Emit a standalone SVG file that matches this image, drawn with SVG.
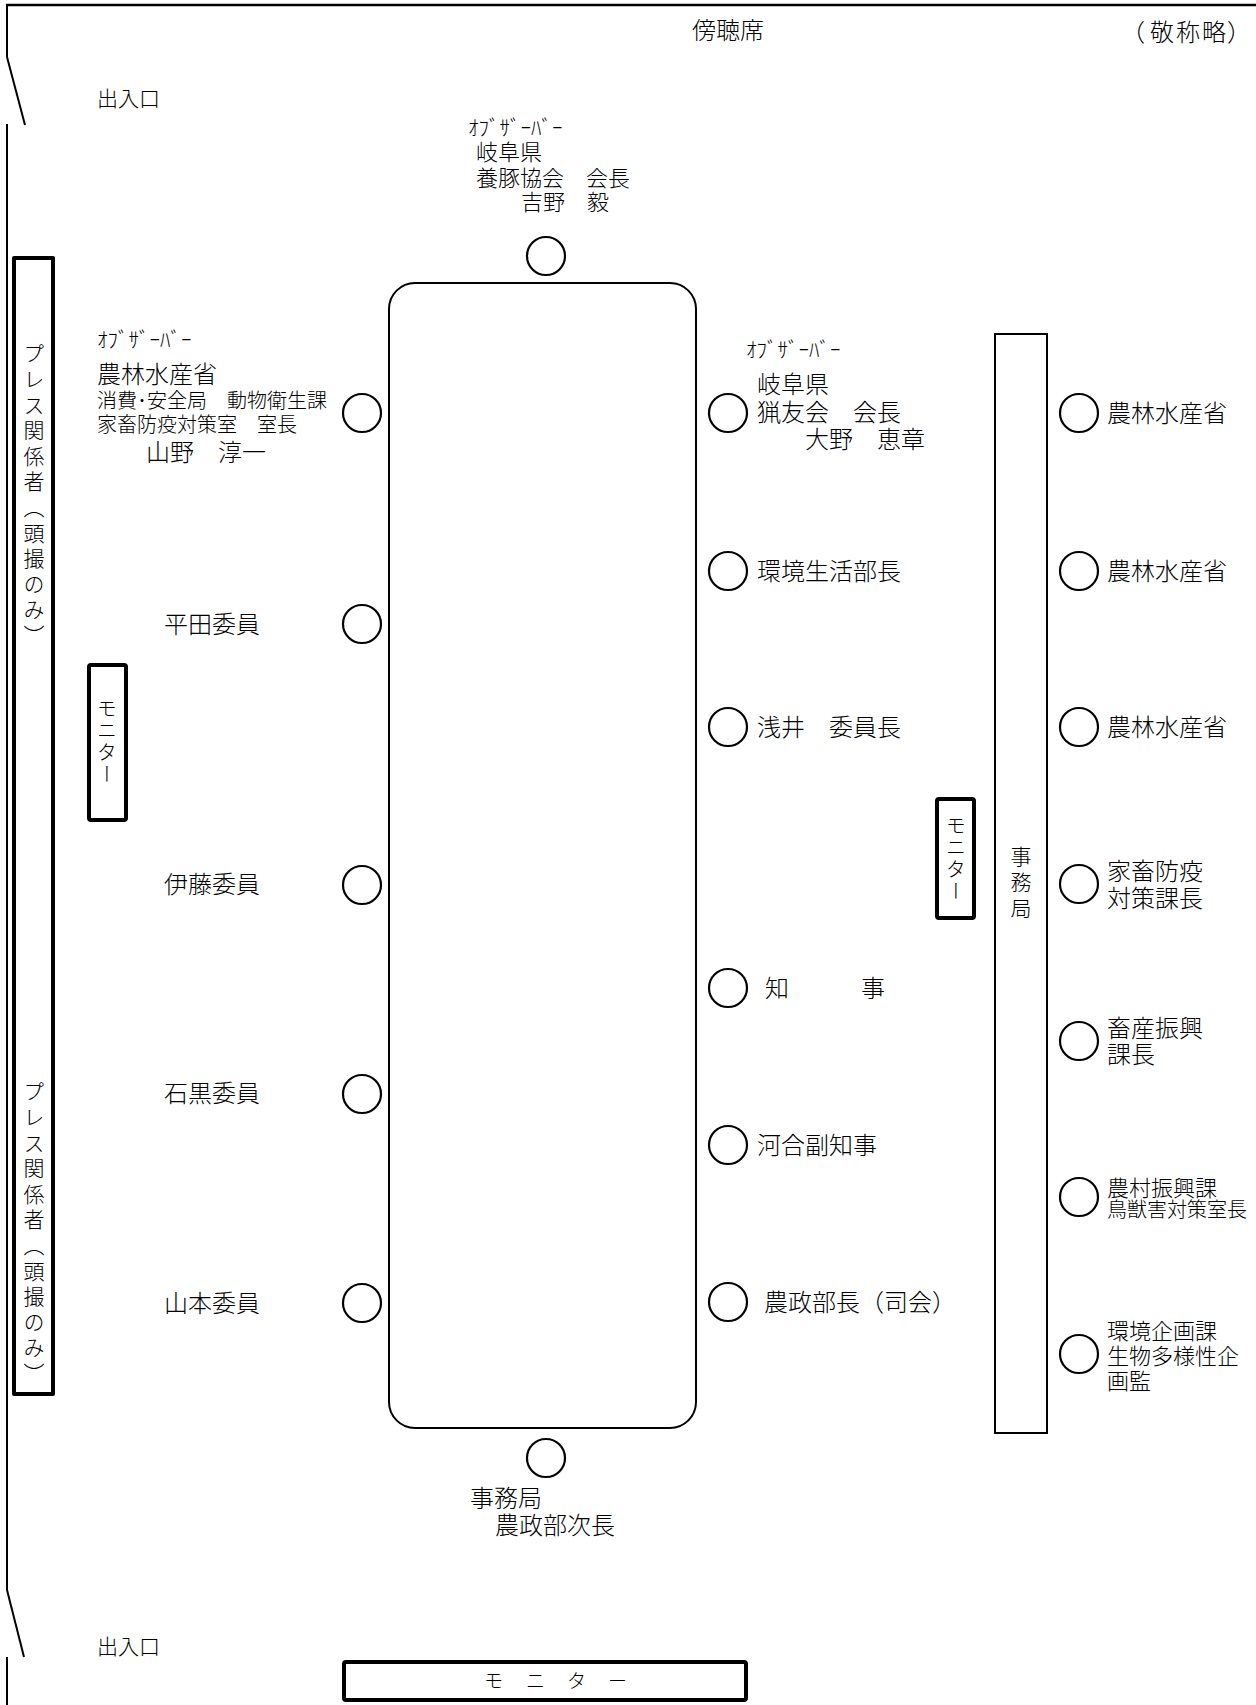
<svg xmlns="http://www.w3.org/2000/svg" width="1256" height="1705" viewBox="0 0 1256 1705">
<style>
text { font-family: "Noto Sans CJK JP", "Noto Sans", sans-serif; fill: #000; font-weight: 300; }
.m { font-size: 24px; }
.n { font-size: 22px; }
.s { font-size: 20px; }
.h { font-size: 21px; }
.v { writing-mode: vertical-rl; }
.seat { fill: #fff; stroke: #000; stroke-width: 2.2; }
.wall { stroke: #000; stroke-width: 2; fill: none; }
.thick { fill: #fff; stroke: #000; stroke-width: 4; stroke-linejoin: round; }
.thin { fill: #fff; stroke: #000; stroke-width: 2; }
</style>
<rect width="1256" height="1705" fill="#fff"/>

<g id="room">
  <line x1="6" y1="5" x2="1256" y2="5" stroke="#000" stroke-width="2.5"/>
  <path class="wall" d="M7,5 V57 M7,124 V1590 M7,1657 V1705"/>
  <line class="wall" x1="7" y1="57" x2="25" y2="125"/>
  <line class="wall" x1="7" y1="1590" x2="24" y2="1657"/>
  <text class="m" x="692" y="39">傍聴席</text>
  <text class="m" x="1121 1150 1176 1202 1227" y="41">（敬称略）</text>
  <text class="h" x="97" y="106">出入口</text>
  <text class="h" x="97" y="1654">出入口</text>
</g>

<g id="table">
  <rect x="389" y="283" width="307" height="1145" rx="26" fill="#fff" stroke="#000" stroke-width="2"/>
</g>

<g id="press">
  <rect class="thick" x="14" y="258" width="39" height="1136"/>
  <text class="v" style="font-size:21px;letter-spacing:4.6px" x="34" y="343">プレス関係者（頭撮のみ）</text>
  <text class="v" style="font-size:21px;letter-spacing:4.6px" x="34" y="1081">プレス関係者（頭撮のみ）</text>
</g>

<g id="monitor-left">
  <rect class="thick" x="89" y="665" width="37" height="155" rx="2"/>
  <text class="v" style="font-size:20px;letter-spacing:2px" x="107" y="698">モニター</text>
</g>

<g id="monitor-right">
  <rect class="thick" x="937" y="799" width="37" height="119" rx="2"/>
  <text class="v" style="font-size:20px;letter-spacing:2px" x="956" y="815">モニター</text>
</g>

<g id="secretariat-desk">
  <rect class="thin" x="995" y="334" width="52" height="1099"/>
  <text class="v" style="font-size:21px;letter-spacing:5px" x="1021" y="846">事務局</text>
</g>

<g id="monitor-bottom">
  <rect class="thick" x="344" y="1662" width="402" height="38" rx="2"/>
  <text style="font-size:19px" x="484 526 567 608" y="1688">モニター</text>
</g>

<g id="seat-top">
  <circle class="seat" cx="546" cy="256" r="19"/>
  <text class="h" x="468" y="135">ｵﾌﾞｻﾞｰﾊﾞｰ</text>
  <text class="n" x="476" y="160">岐阜県</text>
  <text class="n" x="476" y="186">養豚協会　会長</text>
  <text class="n" x="521" y="210">吉野　毅</text>
</g>

<g id="seat-bottom">
  <circle class="seat" cx="546" cy="1458" r="19"/>
  <text class="m" x="470" y="1507">事務局</text>
  <text class="m" x="495" y="1534">農政部次長</text>
</g>

<g id="seat-left-1">
  <circle class="seat" cx="362" cy="413" r="19"/>
  <text class="h" x="97" y="347">ｵﾌﾞｻﾞｰﾊﾞｰ</text>
  <text class="m" x="97" y="383">農林水産省</text>
  <text class="s" x="97" y="408">消費･安全局　動物衛生課</text>
  <text class="s" x="97" y="432">家畜防疫対策室　室長</text>
  <text class="m" x="146" y="461">山野　淳一</text>
</g>
<g id="seat-left-2">
  <circle class="seat" cx="362" cy="624" r="19"/>
  <text class="m" x="164" y="633">平田委員</text>
</g>
<g id="seat-left-3">
  <circle class="seat" cx="362" cy="885" r="19"/>
  <text class="m" x="164" y="893">伊藤委員</text>
</g>
<g id="seat-left-4">
  <circle class="seat" cx="362" cy="1094" r="19"/>
  <text class="m" x="164" y="1102">石黒委員</text>
</g>
<g id="seat-left-5">
  <circle class="seat" cx="362" cy="1303" r="19"/>
  <text class="m" x="164" y="1312">山本委員</text>
</g>

<g id="seat-right-1">
  <circle class="seat" cx="728" cy="413" r="19"/>
  <text class="h" x="746" y="357">ｵﾌﾞｻﾞｰﾊﾞｰ</text>
  <text class="m" x="757" y="393">岐阜県</text>
  <text class="m" x="757" y="421">猟友会　会長</text>
  <text class="m" x="805" y="448">大野　恵章</text>
</g>
<g id="seat-right-2">
  <circle class="seat" cx="728" cy="571" r="19"/>
  <text class="m" x="757" y="580">環境生活部長</text>
</g>
<g id="seat-right-3">
  <circle class="seat" cx="728" cy="727" r="19"/>
  <text class="m" x="757" y="736">浅井　委員長</text>
</g>
<g id="seat-right-4">
  <circle class="seat" cx="728" cy="988" r="19"/>
  <text class="m" x="765" y="997">知　　　事</text>
</g>
<g id="seat-right-5">
  <circle class="seat" cx="728" cy="1145" r="19"/>
  <text class="m" x="757" y="1154">河合副知事</text>
</g>
<g id="seat-right-6">
  <circle class="seat" cx="728" cy="1302" r="19"/>
  <text class="m" x="764" y="1311">農政部長（司会）</text>
</g>

<g id="seat-staff-1">
  <circle class="seat" cx="1079" cy="413" r="19"/>
  <text class="m" x="1107" y="422">農林水産省</text>
</g>
<g id="seat-staff-2">
  <circle class="seat" cx="1079" cy="571" r="19"/>
  <text class="m" x="1107" y="580">農林水産省</text>
</g>
<g id="seat-staff-3">
  <circle class="seat" cx="1079" cy="727" r="19"/>
  <text class="m" x="1107" y="736">農林水産省</text>
</g>
<g id="seat-staff-4">
  <circle class="seat" cx="1079" cy="884" r="19"/>
  <text class="m" x="1107" y="880">家畜防疫</text>
  <text class="m" x="1107" y="907">対策課長</text>
</g>
<g id="seat-staff-5">
  <circle class="seat" cx="1079" cy="1041" r="19"/>
  <text class="m" x="1107" y="1037">畜産振興</text>
  <text class="m" x="1107" y="1063">課長</text>
</g>
<g id="seat-staff-6">
  <circle class="seat" cx="1079" cy="1197" r="19"/>
  <text class="n" x="1107" y="1196">農村振興課</text>
  <text class="s" x="1107" y="1217">鳥獣害対策室長</text>
</g>
<g id="seat-staff-7">
  <circle class="seat" cx="1079" cy="1354" r="19"/>
  <text class="n" x="1107" y="1339">環境企画課</text>
  <text class="n" x="1107" y="1364">生物多様性企</text>
  <text class="n" x="1107" y="1389">画監</text>
</g>

<g id="connectors"></g>
</svg>
